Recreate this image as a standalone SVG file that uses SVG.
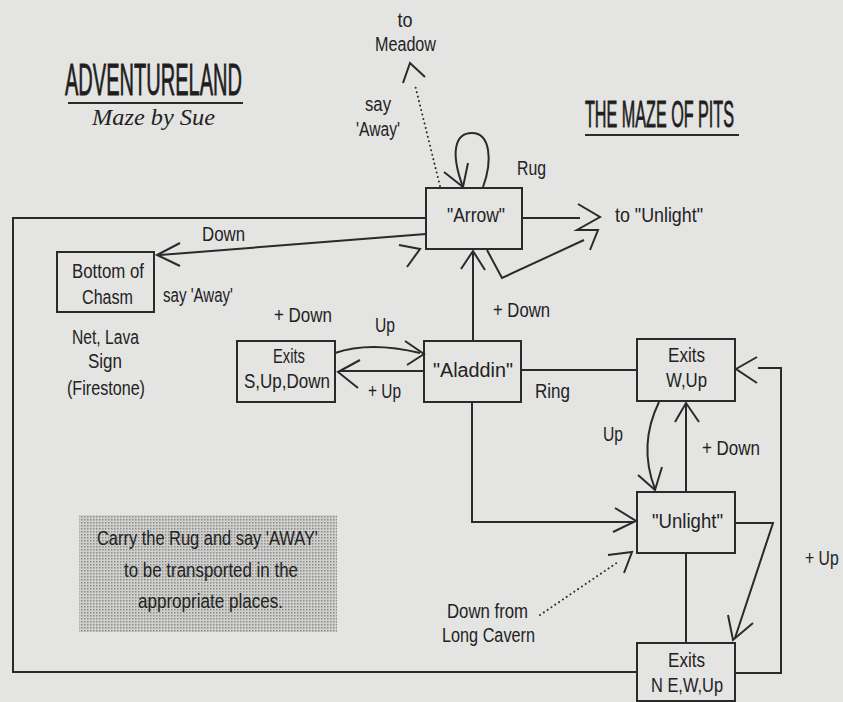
<svg xmlns="http://www.w3.org/2000/svg" width="843" height="702" viewBox="0 0 843 702">
<defs>
<pattern id="stip" width="3" height="3" patternUnits="userSpaceOnUse">
<rect width="3" height="3" fill="#cfcfcd"/>
<rect width="1.5" height="1.5" fill="#8c8c8a"/>
</pattern>
</defs>
<style>
.t{font-family:"Liberation Sans",Arial,sans-serif;font-size:20px;fill:#222;}
.m{text-anchor:middle;}
.box{fill:none;stroke:#2a2a2a;stroke-width:2;}
.ln{fill:none;stroke:#2a2a2a;stroke-width:2;stroke-linejoin:miter;}
.dot{fill:none;stroke:#2a2a2a;stroke-width:2;stroke-dasharray:0.1 4.5;stroke-linecap:round;}
.ttl{font-family:"Liberation Sans",Arial,sans-serif;fill:#1e1e1e;stroke:#1e1e1e;stroke-width:0.8;}
</style>
<rect width="843" height="702" fill="#e4e4e2"/>

<g id="titles">
<text class="ttl" transform="translate(65 95) scale(0.5 1)" x="0" y="0" font-size="44" textLength="354" lengthAdjust="spacingAndGlyphs">ADVENTURELAND</text>
<line x1="68" y1="103" x2="243" y2="103" stroke="#2a2a2a" stroke-width="2"/>
<text x="92" y="125" font-family="'Liberation Serif',serif" font-style="italic" font-size="24" fill="#222" textLength="123" lengthAdjust="spacingAndGlyphs">Maze by Sue</text>
<text class="ttl" transform="translate(585 127) scale(0.5 1)" x="0" y="0" font-size="37" textLength="298" lengthAdjust="spacingAndGlyphs">THE MAZE OF PITS</text>
<line x1="585" y1="135" x2="739" y2="135" stroke="#2a2a2a" stroke-width="2"/>
</g>

<g id="connectors">
<line class="dot" x1="440" y1="186" x2="415" y2="85"/>
<polyline class="ln" points="403,83 410,63 425,77"/>
<path class="ln" d="M463,187 C450,152 455,133 472,133 C490,133 493,160 483,187"/>
<polyline class="ln" points="444,172 463,187 468,163"/>
<line class="ln" x1="522" y1="218" x2="580" y2="218"/>
<polyline class="ln" points="578,204 600,217 577,230 598,230 590,250"/>
<polyline class="ln" points="487,250 502,278 584,240"/>
<line class="ln" x1="426" y1="234" x2="160" y2="255"/>
<polyline class="ln" points="180,243 157,255 180,266"/>
<polyline class="ln" points="426,218 13,218 13,672 637,672"/>
<polyline class="ln" points="735,673 781,673 781,368 758,368"/>
<polyline class="ln" points="757,357 736,369 757,383"/>
<polyline class="ln" points="399,245 420,249 407,267"/>
<path class="ln" d="M335,353 Q370,341 420,353"/>
<polyline class="ln" points="405,341 424,354 407,365"/>
<line class="ln" x1="424" y1="371" x2="340" y2="371"/>
<polyline class="ln" points="360,360 338,372 358,388"/>
<line class="ln" x1="473" y1="341" x2="473" y2="252"/>
<polyline class="ln" points="461,269 473,251 485,270"/>
<line class="ln" x1="521" y1="370" x2="637" y2="370"/>
<polyline class="ln" points="472,402 472,522 634,522"/>
<polyline class="ln" points="615,508 636,521 613,532"/>
<path class="ln" d="M659,402 Q638,445 655,489"/>
<polyline class="ln" points="638,475 655,490 662,467"/>
<line class="ln" x1="686" y1="492" x2="686" y2="404"/>
<polyline class="ln" points="675,422 686,403 699,422"/>
<line class="ln" x1="686" y1="553" x2="686" y2="643"/>
<polyline class="ln" points="735,523 773,523 735,638"/>
<polyline class="ln" points="728,615 733,640 753,623"/>
<line class="dot" x1="540" y1="615" x2="618" y2="562"/>
<polyline class="ln" points="608,555 632,552 624,573"/>
</g>

<g id="labels">
<text class="t m" x="405" y="27" textLength="15" lengthAdjust="spacingAndGlyphs">to</text>
<text class="t" x="375" y="51" textLength="61" lengthAdjust="spacingAndGlyphs">Meadow</text>
<text class="t" x="365" y="111" textLength="26" lengthAdjust="spacingAndGlyphs">say</text>
<text class="t" x="356" y="136" textLength="44" lengthAdjust="spacingAndGlyphs">'Away'</text>
<text class="t" x="517" y="175" textLength="29" lengthAdjust="spacingAndGlyphs">Rug</text>
<text class="t" x="615" y="222" textLength="88" lengthAdjust="spacingAndGlyphs">to "Unlight"</text>
<text class="t" x="202" y="241" textLength="43" lengthAdjust="spacingAndGlyphs">Down</text>
<text class="t" x="163" y="302" textLength="70" lengthAdjust="spacingAndGlyphs">say 'Away'</text>
<text class="t" x="274" y="322" textLength="58" lengthAdjust="spacingAndGlyphs">+ Down</text>
<text class="t" x="375" y="332" textLength="20" lengthAdjust="spacingAndGlyphs">Up</text>
<text class="t" x="368" y="398" textLength="33" lengthAdjust="spacingAndGlyphs">+ Up</text>
<text class="t" x="493" y="317" textLength="57" lengthAdjust="spacingAndGlyphs">+ Down</text>
<text class="t" x="535" y="398" textLength="35" lengthAdjust="spacingAndGlyphs">Ring</text>
<text class="t" x="603" y="441" textLength="20" lengthAdjust="spacingAndGlyphs">Up</text>
<text class="t" x="702" y="455" textLength="58" lengthAdjust="spacingAndGlyphs">+ Down</text>
<text class="t" transform="translate(805 565) scale(0.82 1)" x="0" y="0" textLength="41" lengthAdjust="spacingAndGlyphs">+ Up</text>
<text class="t" x="447" y="618" textLength="81" lengthAdjust="spacingAndGlyphs">Down from</text>
<text class="t" x="442" y="642" textLength="93" lengthAdjust="spacingAndGlyphs">Long Cavern</text>
</g>

<g id="node-chasm">
<rect class="box" x="57" y="252" width="97" height="60"/>
<text class="t" x="72" y="278" textLength="72" lengthAdjust="spacingAndGlyphs">Bottom of</text>
<text class="t" x="82" y="304" textLength="51" lengthAdjust="spacingAndGlyphs">Chasm</text>
<text class="t" x="72" y="344" textLength="67" lengthAdjust="spacingAndGlyphs">Net, Lava</text>
<text class="t" x="88" y="368" textLength="34" lengthAdjust="spacingAndGlyphs">Sign</text>
<text class="t" x="67" y="395" textLength="78" lengthAdjust="spacingAndGlyphs">(Firestone)</text>
</g>

<g id="node-exits-sud">
<rect class="box" x="237" y="341" width="98" height="61"/>
<text class="t" x="273" y="363" textLength="32" lengthAdjust="spacingAndGlyphs">Exits</text>
<text class="t" x="244" y="388" textLength="86" lengthAdjust="spacingAndGlyphs">S,Up,Down</text>
</g>

<g id="node-arrow">
<rect class="box" x="426" y="188" width="96" height="61"/>
<text class="t" x="447" y="222" textLength="58" lengthAdjust="spacingAndGlyphs">"Arrow"</text>
</g>

<g id="node-aladdin">
<rect class="box" x="424" y="341" width="97" height="61"/>
<text class="t" x="433" y="377" textLength="80" lengthAdjust="spacingAndGlyphs">"Aladdin"</text>
</g>

<g id="node-exits-wup">
<rect class="box" x="637" y="339" width="98" height="62"/>
<text class="t" x="668" y="362" textLength="37" lengthAdjust="spacingAndGlyphs">Exits</text>
<text class="t" x="666" y="387" textLength="41" lengthAdjust="spacingAndGlyphs">W,Up</text>
</g>

<g id="node-unlight">
<rect class="box" x="637" y="492" width="98" height="61"/>
<text class="t" x="652" y="528" textLength="71" lengthAdjust="spacingAndGlyphs">"Unlight"</text>
</g>

<g id="node-exits-newup">
<rect class="box" x="637" y="643" width="98" height="58"/>
<text class="t" x="668" y="667" textLength="37" lengthAdjust="spacingAndGlyphs">Exits</text>
<text class="t" x="651" y="692" textLength="72" lengthAdjust="spacingAndGlyphs">N E,W,Up</text>
</g>

<g id="note">
<rect x="79" y="515" width="258" height="117" fill="url(#stip)"/>
<text class="t" x="97" y="545" font-size="19" textLength="221" lengthAdjust="spacingAndGlyphs">Carry the Rug and say 'AWAY'</text>
<text class="t" x="124" y="577" font-size="19" textLength="174" lengthAdjust="spacingAndGlyphs">to be transported in the</text>
<text class="t" x="138" y="608" font-size="19" textLength="145" lengthAdjust="spacingAndGlyphs">appropriate places.</text>
</g>
</svg>
